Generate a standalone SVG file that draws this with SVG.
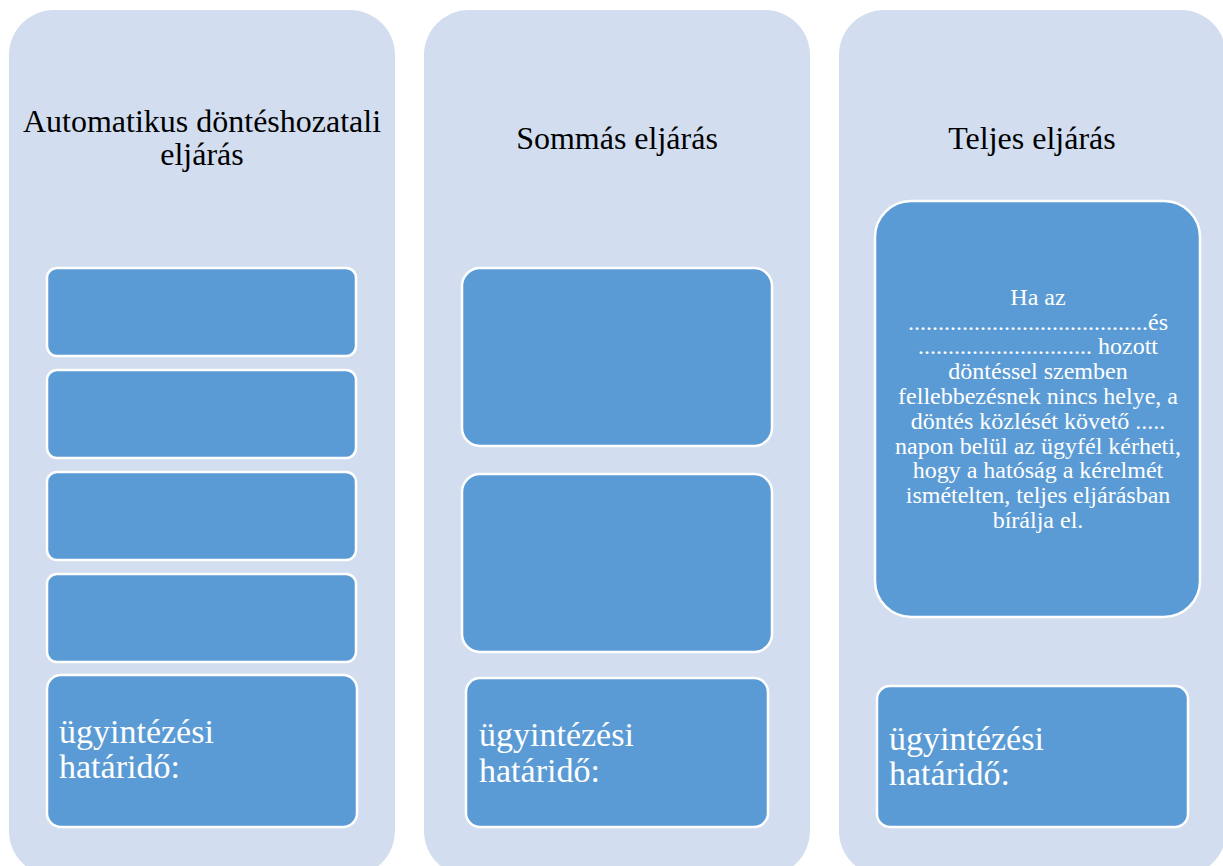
<svg xmlns="http://www.w3.org/2000/svg" width="1223" height="866" viewBox="0 0 1223 866">
<style>
.col{fill:#D2DEEF;}
.box{fill:#5B9BD5;stroke:#FFFFFF;stroke-width:2.5;}
.title{font-family:"Liberation Serif","Times New Roman",serif;font-size:32px;fill:#000;text-anchor:middle;}
.lbl{font-family:"Liberation Serif","Times New Roman",serif;font-size:34px;fill:#FFFFFF;}
.body{font-family:"Liberation Serif","Times New Roman",serif;font-size:24px;fill:#FFFFFF;text-anchor:middle;}
</style>
<rect width="1223" height="866" fill="#FFFFFF"/>
<g id="col1">
<rect class="col" x="9" y="10" width="386" height="866" rx="45"/>
<text class="title" x="202" y="132">Automatikus döntéshozatali</text>
<text class="title" x="202" y="165">eljárás</text>
</g>
<g id="col1-box1"><rect class="box" x="47" y="268" width="309" height="88" rx="10"/></g>
<g id="col1-box2"><rect class="box" x="47" y="370" width="309" height="88" rx="10"/></g>
<g id="col1-box3"><rect class="box" x="47" y="472" width="309" height="88" rx="10"/></g>
<g id="col1-box4"><rect class="box" x="47" y="574" width="309" height="88" rx="10"/></g>
<g id="col1-box5">
<rect class="box" x="47" y="675" width="310" height="152" rx="14"/>
<text class="lbl" x="59" y="743">ügyintézési</text>
<text class="lbl" x="59" y="778">határidő:</text>
</g>
<g id="col2">
<rect class="col" x="424" y="10" width="386" height="866" rx="45"/>
<text class="title" x="617" y="149">Sommás eljárás</text>
</g>
<g id="col2-box1"><rect class="box" x="462" y="268" width="310" height="178" rx="18"/></g>
<g id="col2-box2"><rect class="box" x="462" y="474" width="310" height="178" rx="18"/></g>
<g id="col2-box3">
<rect class="box" x="466" y="678" width="302" height="149" rx="14"/>
<text class="lbl" x="479" y="746">ügyintézési</text>
<text class="lbl" x="479" y="782">határidő:</text>
</g>
<g id="col3">
<rect class="col" x="839" y="10" width="387" height="866" rx="45"/>
<text class="title" x="1032" y="149">Teljes eljárás</text>
</g>
<g id="col3-box1">
<rect class="box" x="875" y="201" width="325" height="416" rx="36"/>
<text class="body" x="1038" y="305">Ha az</text>
<text class="body" x="1038" y="330">........................................és</text>
<text class="body" x="1038" y="354">............................. hozott</text>
<text class="body" x="1038" y="379">döntéssel szemben</text>
<text class="body" x="1038" y="404">fellebbezésnek nincs helye, a</text>
<text class="body" x="1038" y="429">döntés közlését követő .....</text>
<text class="body" x="1038" y="454">napon belül az ügyfél kérheti,</text>
<text class="body" x="1038" y="478">hogy a hatóság a kérelmét</text>
<text class="body" x="1038" y="503">ismételten, teljes eljárásban</text>
<text class="body" x="1038" y="528">bírálja el.</text>
</g>
<g id="col3-box2">
<rect class="box" x="877" y="686" width="311" height="141" rx="13"/>
<text class="lbl" x="889" y="750">ügyintézési</text>
<text class="lbl" x="889" y="785">határidő:</text>
</g>
<g id="connectors"></g>
</svg>
